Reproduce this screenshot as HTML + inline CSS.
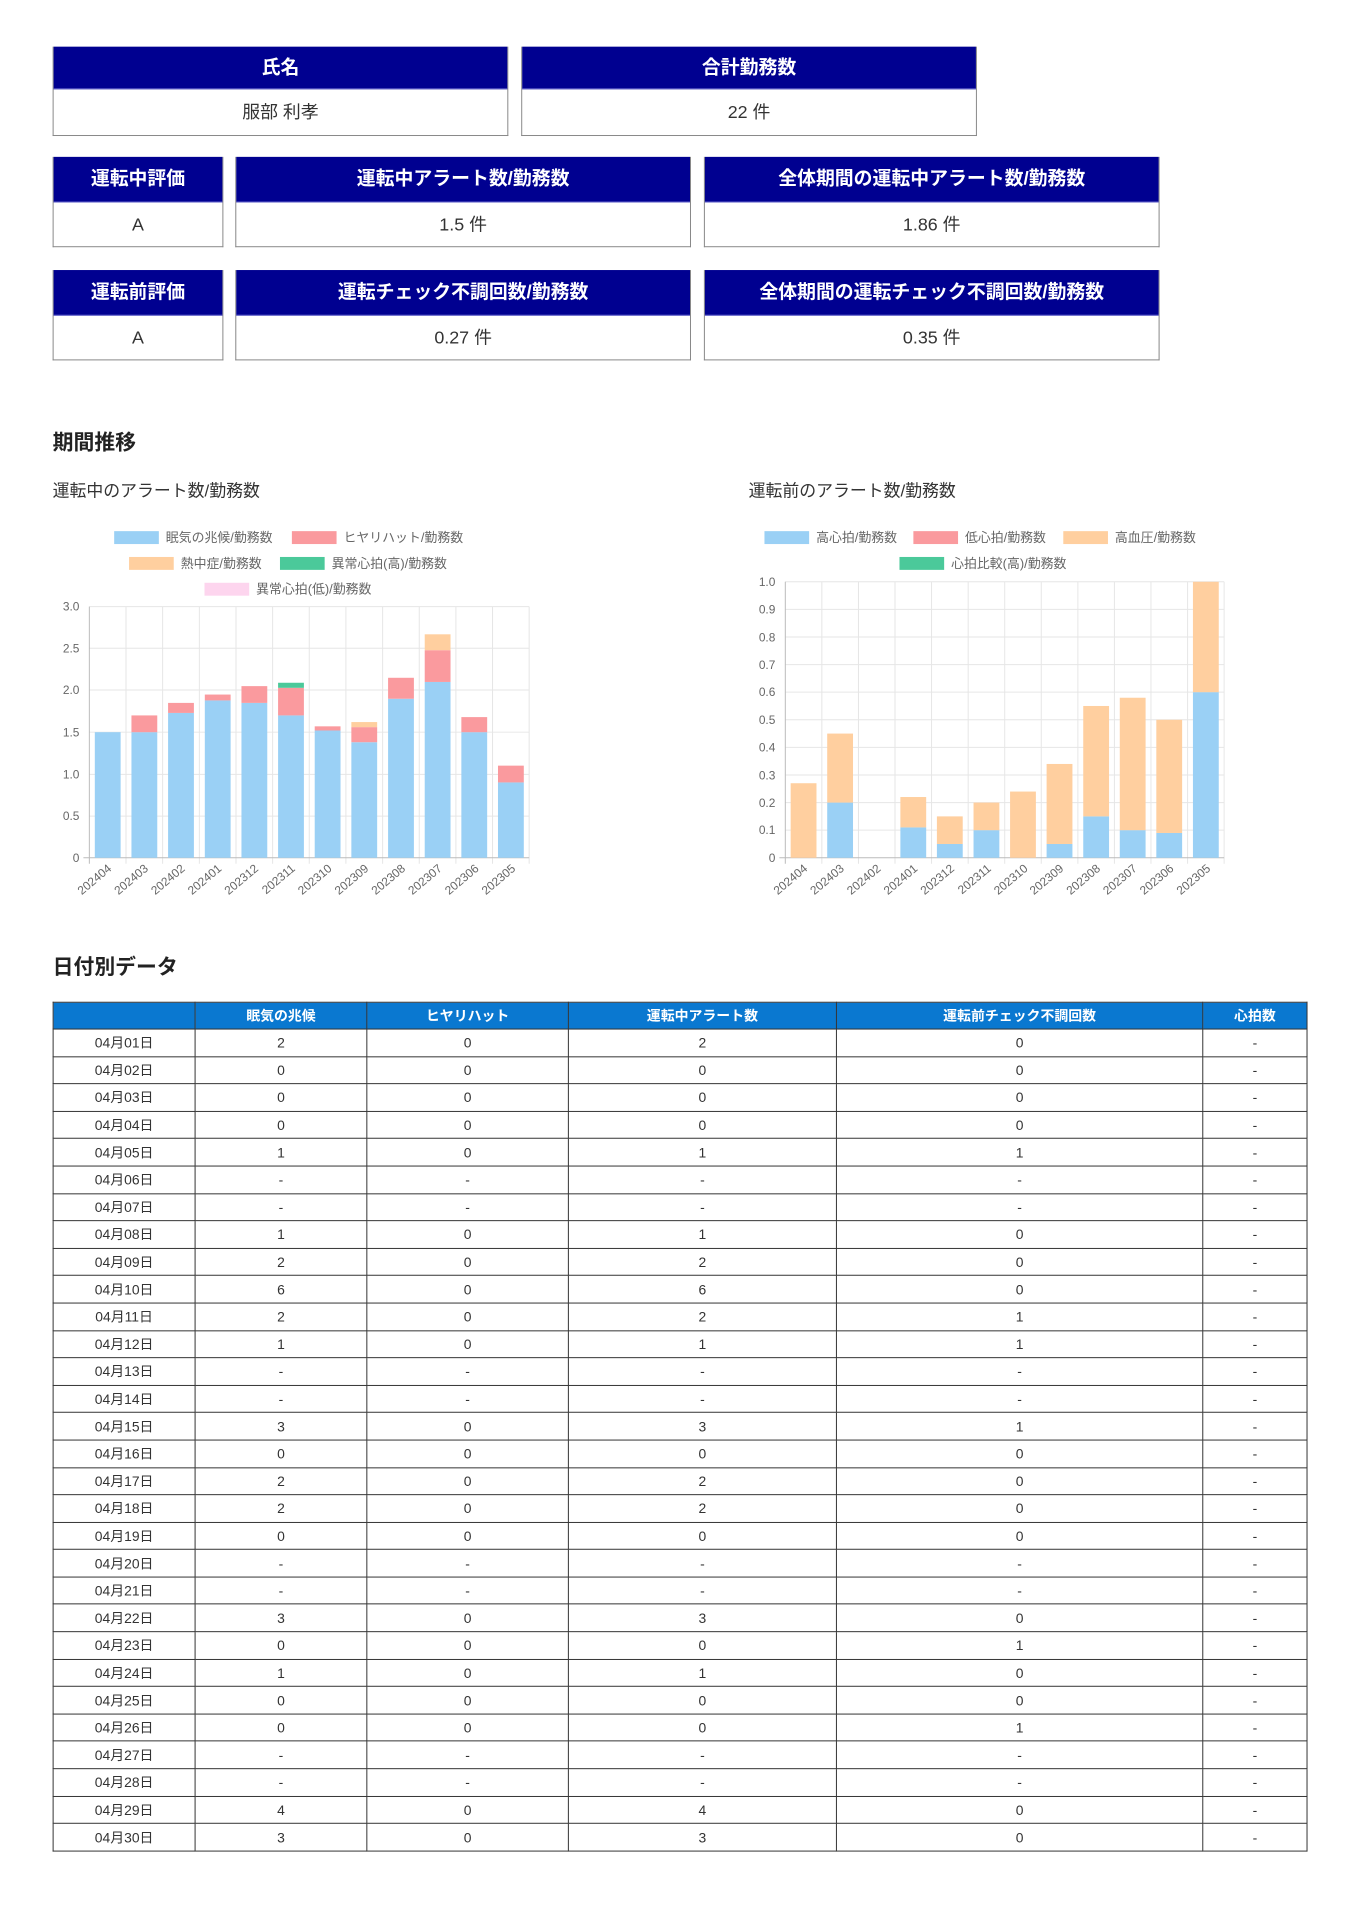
<!DOCTYPE html>
<html><head><meta charset="utf-8"><style>
*{box-sizing:border-box;margin:0;padding:0}
body{width:1358px;height:1920px;background:#fff;font-family:"Liberation Sans","Noto Sans CJK JP",sans-serif;color:#222;position:relative;overflow:hidden}
#w{position:absolute;left:0;top:0;width:1358px;height:1920px;transform:scale(0.9928);transform-origin:0 0}
.card{position:absolute;border:1px solid #888;border-top:none}
.card .h{background:#000090;color:#fff;font-weight:bold;font-size:19px;text-align:center;border-bottom:1px solid #6b6bd0}
.card .v{text-align:center;font-size:18px;color:#333}
h2{position:absolute;font-size:21px;font-weight:bold;color:#222}
.sub{position:absolute;font-size:17px;color:#333}
table{position:absolute;left:53px;top:1009px;width:1264px;border-collapse:collapse;font-size:14px}
th{background:#0a78d0;color:#fff;font-weight:bold;height:27px;border:1px solid #333}
td{height:27.6px;border:1px solid #333;text-align:center;color:#333;padding:0}
svg text{font-family:"Liberation Sans","Noto Sans CJK JP",sans-serif}
</style></head><body><div id="w">

<div class="card" style="left:53px;top:47px;width:459px;height:90px"><div class="h" style="height:43px;line-height:43px">氏名</div><div class="v" style="line-height:46px">服部 利孝</div></div>
<div class="card" style="left:525px;top:47px;width:459px;height:90px"><div class="h" style="height:43px;line-height:43px">合計勤務数</div><div class="v" style="line-height:46px">22 件</div></div>

<div class="card" style="left:53px;top:158px;width:172px;height:91px"><div class="h" style="height:46px;line-height:46px">運転中評価</div><div class="v" style="line-height:44px">A</div></div>
<div class="card" style="left:237px;top:158px;width:459px;height:91px"><div class="h" style="height:46px;line-height:46px">運転中アラート数/勤務数</div><div class="v" style="line-height:44px">1.5 件</div></div>
<div class="card" style="left:709px;top:158px;width:459px;height:91px"><div class="h" style="height:46px;line-height:46px">全体期間の運転中アラート数/勤務数</div><div class="v" style="line-height:44px">1.86 件</div></div>

<div class="card" style="left:53px;top:272px;width:172px;height:91px"><div class="h" style="height:46px;line-height:46px">運転前評価</div><div class="v" style="line-height:44px">A</div></div>
<div class="card" style="left:237px;top:272px;width:459px;height:91px"><div class="h" style="height:46px;line-height:46px">運転チェック不調回数/勤務数</div><div class="v" style="line-height:44px">0.27 件</div></div>
<div class="card" style="left:709px;top:272px;width:459px;height:91px"><div class="h" style="height:46px;line-height:46px">全体期間の運転チェック不調回数/勤務数</div><div class="v" style="line-height:44px">0.35 件</div></div>

<h2 style="left:53px;top:430px">期間推移</h2>
<div class="sub" style="left:53px;top:480px">運転中のアラート数/勤務数</div>
<div class="sub" style="left:754px;top:480px">運転前のアラート数/勤務数</div>

<svg style="position:absolute;left:0;top:0" width="1358" height="950" viewBox="0 0 1358 950">
<g font-size="13" fill="#666">
<rect x="115" y="535" width="45" height="13" fill="#9ad0f5"/><text x="167" y="546">眠気の兆候/勤務数</text>
<rect x="294" y="535" width="45" height="13" fill="#fa9a9e"/><text x="346" y="546">ヒヤリハット/勤務数</text>
<rect x="130" y="561" width="45" height="13" fill="#ffcf9f"/><text x="182" y="572">熱中症/勤務数</text>
<rect x="282" y="561" width="45" height="13" fill="#4bc99a"/><text x="334" y="572">異常心拍(高)/勤務数</text>
<rect x="206" y="587" width="45" height="13" fill="#fdd5ee"/><text x="258" y="598">異常心拍(低)/勤務数</text>
<rect x="770" y="535" width="45" height="13" fill="#9ad0f5"/><text x="822" y="546">高心拍/勤務数</text>
<rect x="920" y="535" width="45" height="13" fill="#fa9a9e"/><text x="972" y="546">低心拍/勤務数</text>
<rect x="1071" y="535" width="45" height="13" fill="#ffcf9f"/><text x="1123" y="546">高血圧/勤務数</text>
<rect x="906" y="561" width="45" height="13" fill="#4bc99a"/><text x="958" y="572">心拍比較(高)/勤務数</text>
</g>
<g stroke="#e6e6e6" stroke-width="1">
<line x1="90" y1="611" x2="533" y2="611"/><line x1="90" y1="653" x2="533" y2="653"/><line x1="90" y1="695" x2="533" y2="695"/><line x1="90" y1="737.5" x2="533" y2="737.5"/><line x1="90" y1="780" x2="533" y2="780"/><line x1="90" y1="822" x2="533" y2="822"/>
<line x1="126.9" y1="611" x2="126.9" y2="870"/><line x1="163.8" y1="611" x2="163.8" y2="870"/><line x1="200.8" y1="611" x2="200.8" y2="870"/><line x1="237.7" y1="611" x2="237.7" y2="870"/><line x1="274.6" y1="611" x2="274.6" y2="870"/><line x1="311.5" y1="611" x2="311.5" y2="870"/><line x1="348.4" y1="611" x2="348.4" y2="870"/><line x1="385.4" y1="611" x2="385.4" y2="870"/><line x1="422.3" y1="611" x2="422.3" y2="870"/><line x1="459.2" y1="611" x2="459.2" y2="870"/><line x1="496.1" y1="611" x2="496.1" y2="870"/><line x1="533" y1="611" x2="533" y2="870"/>
</g>
<g stroke="#bbb"><line x1="90" y1="611" x2="90" y2="870"/><line x1="84" y1="864" x2="533" y2="864"/></g>
<g font-size="12" fill="#666" text-anchor="end">
<text x="80" y="615">3.0</text><text x="80" y="657">2.5</text><text x="80" y="699">2.0</text><text x="80" y="742">1.5</text><text x="80" y="784">1.0</text><text x="80" y="826">0.5</text><text x="80" y="868">0</text>
</g>
<g>
<rect x="95.5" y="737.5" width="26" height="126.5" fill="#9ad0f5"/>
<rect x="132.4" y="737.5" width="26" height="126.5" fill="#9ad0f5"/><rect x="132.4" y="720.6" width="26" height="16.9" fill="#fa9a9e"/>
<rect x="169.3" y="718.1" width="26" height="145.9" fill="#9ad0f5"/><rect x="169.3" y="708" width="26" height="10.1" fill="#fa9a9e"/>
<rect x="206.3" y="705.5" width="26" height="158.5" fill="#9ad0f5"/><rect x="206.3" y="699.6" width="26" height="5.9" fill="#fa9a9e"/>
<rect x="243.2" y="708" width="26" height="156" fill="#9ad0f5"/><rect x="243.2" y="691.1" width="26" height="16.9" fill="#fa9a9e"/>
<rect x="280.1" y="720.6" width="26" height="143.4" fill="#9ad0f5"/><rect x="280.1" y="692.8" width="26" height="27.8" fill="#fa9a9e"/><rect x="280.1" y="687.7" width="26" height="5.1" fill="#4bc99a"/>
<rect x="317" y="735.8" width="26" height="128.2" fill="#9ad0f5"/><rect x="317" y="731.6" width="26" height="4.2" fill="#fa9a9e"/>
<rect x="353.9" y="747.6" width="26" height="116.4" fill="#9ad0f5"/><rect x="353.9" y="732.4" width="26" height="15.2" fill="#fa9a9e"/><rect x="353.9" y="727.3" width="26" height="5.1" fill="#ffcf9f"/>
<rect x="390.9" y="703.8" width="26" height="160.2" fill="#9ad0f5"/><rect x="390.9" y="682.7" width="26" height="21.1" fill="#fa9a9e"/>
<rect x="427.8" y="686.9" width="26" height="177.1" fill="#9ad0f5"/><rect x="427.8" y="654.9" width="26" height="32" fill="#fa9a9e"/><rect x="427.8" y="638.9" width="26" height="16" fill="#ffcf9f"/>
<rect x="464.7" y="737.5" width="26" height="126.5" fill="#9ad0f5"/><rect x="464.7" y="722.3" width="26" height="15.2" fill="#fa9a9e"/>
<rect x="501.6" y="788.1" width="26" height="75.9" fill="#9ad0f5"/><rect x="501.6" y="771.2" width="26" height="16.9" fill="#fa9a9e"/>
</g>
<g font-size="12" fill="#666" text-anchor="end">
<text transform="translate(113,876) rotate(-40)">202404</text><text transform="translate(150,876) rotate(-40)">202403</text><text transform="translate(187,876) rotate(-40)">202402</text><text transform="translate(224,876) rotate(-40)">202401</text><text transform="translate(261,876) rotate(-40)">202312</text><text transform="translate(298,876) rotate(-40)">202311</text><text transform="translate(335,876) rotate(-40)">202310</text><text transform="translate(372,876) rotate(-40)">202309</text><text transform="translate(409,876) rotate(-40)">202308</text><text transform="translate(446,876) rotate(-40)">202307</text><text transform="translate(483,876) rotate(-40)">202306</text><text transform="translate(520,876) rotate(-40)">202305</text>
</g>
<g stroke="#e6e6e6">
<line x1="791" y1="586" x2="1233" y2="586"/><line x1="791" y1="613.8" x2="1233" y2="613.8"/><line x1="791" y1="641.6" x2="1233" y2="641.6"/><line x1="791" y1="669.4" x2="1233" y2="669.4"/><line x1="791" y1="697.2" x2="1233" y2="697.2"/><line x1="791" y1="725" x2="1233" y2="725"/><line x1="791" y1="752.8" x2="1233" y2="752.8"/><line x1="791" y1="780.6" x2="1233" y2="780.6"/><line x1="791" y1="808.4" x2="1233" y2="808.4"/><line x1="791" y1="836.2" x2="1233" y2="836.2"/>
<line x1="827.8" y1="586" x2="827.8" y2="870"/><line x1="864.7" y1="586" x2="864.7" y2="870"/><line x1="901.5" y1="586" x2="901.5" y2="870"/><line x1="938.3" y1="586" x2="938.3" y2="870"/><line x1="975.2" y1="586" x2="975.2" y2="870"/><line x1="1012" y1="586" x2="1012" y2="870"/><line x1="1048.8" y1="586" x2="1048.8" y2="870"/><line x1="1085.7" y1="586" x2="1085.7" y2="870"/><line x1="1122.5" y1="586" x2="1122.5" y2="870"/><line x1="1159.3" y1="586" x2="1159.3" y2="870"/><line x1="1196.2" y1="586" x2="1196.2" y2="870"/><line x1="1233" y1="586" x2="1233" y2="870"/>
</g>
<g stroke="#bbb"><line x1="791" y1="586" x2="791" y2="870"/><line x1="785" y1="864" x2="1233" y2="864"/></g>
<g font-size="12" fill="#666" text-anchor="end">
<text x="781" y="590">1.0</text><text x="781" y="618">0.9</text><text x="781" y="646">0.8</text><text x="781" y="674">0.7</text><text x="781" y="701">0.6</text><text x="781" y="729">0.5</text><text x="781" y="757">0.4</text><text x="781" y="785">0.3</text><text x="781" y="813">0.2</text><text x="781" y="840">0.1</text><text x="781" y="868">0</text>
</g>
<g>
<rect x="796.4" y="788.9" width="26" height="75.1" fill="#ffcf9f"/>
<rect x="833.2" y="808.4" width="26" height="55.6" fill="#9ad0f5"/><rect x="833.2" y="738.9" width="26" height="69.5" fill="#ffcf9f"/>
<rect x="906.9" y="833.4" width="26" height="30.6" fill="#9ad0f5"/><rect x="906.9" y="802.8" width="26" height="30.6" fill="#ffcf9f"/>
<rect x="943.7" y="850.1" width="26" height="13.9" fill="#9ad0f5"/><rect x="943.7" y="822.3" width="26" height="27.8" fill="#ffcf9f"/>
<rect x="980.6" y="836.2" width="26" height="27.8" fill="#9ad0f5"/><rect x="980.6" y="808.4" width="26" height="27.8" fill="#ffcf9f"/>
<rect x="1017.4" y="797.3" width="26" height="66.7" fill="#ffcf9f"/>
<rect x="1054.2" y="850.1" width="26" height="13.9" fill="#9ad0f5"/><rect x="1054.2" y="769.5" width="26" height="80.6" fill="#ffcf9f"/>
<rect x="1091.1" y="822.3" width="26" height="41.7" fill="#9ad0f5"/><rect x="1091.1" y="711.1" width="26" height="111.2" fill="#ffcf9f"/>
<rect x="1127.9" y="836.2" width="26" height="27.8" fill="#9ad0f5"/><rect x="1127.9" y="702.8" width="26" height="133.4" fill="#ffcf9f"/>
<rect x="1164.7" y="839" width="26" height="25" fill="#9ad0f5"/><rect x="1164.7" y="725" width="26" height="114" fill="#ffcf9f"/>
<rect x="1201.6" y="697.2" width="26" height="166.8" fill="#9ad0f5"/><rect x="1201.6" y="586" width="26" height="111.2" fill="#ffcf9f"/>
</g>
<g font-size="12" fill="#666" text-anchor="end">
<text transform="translate(814,876) rotate(-40)">202404</text><text transform="translate(851,876) rotate(-40)">202403</text><text transform="translate(888,876) rotate(-40)">202402</text><text transform="translate(925,876) rotate(-40)">202401</text><text transform="translate(962,876) rotate(-40)">202312</text><text transform="translate(999,876) rotate(-40)">202311</text><text transform="translate(1036,876) rotate(-40)">202310</text><text transform="translate(1072,876) rotate(-40)">202309</text><text transform="translate(1109,876) rotate(-40)">202308</text><text transform="translate(1146,876) rotate(-40)">202307</text><text transform="translate(1183,876) rotate(-40)">202306</text><text transform="translate(1220,876) rotate(-40)">202305</text>
</g>
</svg>

<h2 style="left:53px;top:958px">日付別データ</h2>
<table>
<tr><th style="width:143px"></th><th style="width:173px">眠気の兆候</th><th style="width:203px">ヒヤリハット</th><th style="width:270px">運転中アラート数</th><th style="width:369px">運転前チェック不調回数</th><th>心拍数</th></tr>
<tr><td>04月01日</td><td>2</td><td>0</td><td>2</td><td>0</td><td>-</td></tr>
<tr><td>04月02日</td><td>0</td><td>0</td><td>0</td><td>0</td><td>-</td></tr>
<tr><td>04月03日</td><td>0</td><td>0</td><td>0</td><td>0</td><td>-</td></tr>
<tr><td>04月04日</td><td>0</td><td>0</td><td>0</td><td>0</td><td>-</td></tr>
<tr><td>04月05日</td><td>1</td><td>0</td><td>1</td><td>1</td><td>-</td></tr>
<tr><td>04月06日</td><td>-</td><td>-</td><td>-</td><td>-</td><td>-</td></tr>
<tr><td>04月07日</td><td>-</td><td>-</td><td>-</td><td>-</td><td>-</td></tr>
<tr><td>04月08日</td><td>1</td><td>0</td><td>1</td><td>0</td><td>-</td></tr>
<tr><td>04月09日</td><td>2</td><td>0</td><td>2</td><td>0</td><td>-</td></tr>
<tr><td>04月10日</td><td>6</td><td>0</td><td>6</td><td>0</td><td>-</td></tr>
<tr><td>04月11日</td><td>2</td><td>0</td><td>2</td><td>1</td><td>-</td></tr>
<tr><td>04月12日</td><td>1</td><td>0</td><td>1</td><td>1</td><td>-</td></tr>
<tr><td>04月13日</td><td>-</td><td>-</td><td>-</td><td>-</td><td>-</td></tr>
<tr><td>04月14日</td><td>-</td><td>-</td><td>-</td><td>-</td><td>-</td></tr>
<tr><td>04月15日</td><td>3</td><td>0</td><td>3</td><td>1</td><td>-</td></tr>
<tr><td>04月16日</td><td>0</td><td>0</td><td>0</td><td>0</td><td>-</td></tr>
<tr><td>04月17日</td><td>2</td><td>0</td><td>2</td><td>0</td><td>-</td></tr>
<tr><td>04月18日</td><td>2</td><td>0</td><td>2</td><td>0</td><td>-</td></tr>
<tr><td>04月19日</td><td>0</td><td>0</td><td>0</td><td>0</td><td>-</td></tr>
<tr><td>04月20日</td><td>-</td><td>-</td><td>-</td><td>-</td><td>-</td></tr>
<tr><td>04月21日</td><td>-</td><td>-</td><td>-</td><td>-</td><td>-</td></tr>
<tr><td>04月22日</td><td>3</td><td>0</td><td>3</td><td>0</td><td>-</td></tr>
<tr><td>04月23日</td><td>0</td><td>0</td><td>0</td><td>1</td><td>-</td></tr>
<tr><td>04月24日</td><td>1</td><td>0</td><td>1</td><td>0</td><td>-</td></tr>
<tr><td>04月25日</td><td>0</td><td>0</td><td>0</td><td>0</td><td>-</td></tr>
<tr><td>04月26日</td><td>0</td><td>0</td><td>0</td><td>1</td><td>-</td></tr>
<tr><td>04月27日</td><td>-</td><td>-</td><td>-</td><td>-</td><td>-</td></tr>
<tr><td>04月28日</td><td>-</td><td>-</td><td>-</td><td>-</td><td>-</td></tr>
<tr><td>04月29日</td><td>4</td><td>0</td><td>4</td><td>0</td><td>-</td></tr>
<tr><td>04月30日</td><td>3</td><td>0</td><td>3</td><td>0</td><td>-</td></tr>
</table>
</div></body></html>
